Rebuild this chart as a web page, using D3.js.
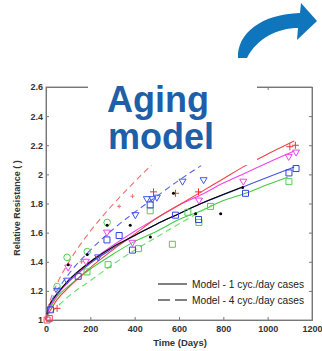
<!DOCTYPE html>
<meta charset="utf-8">
<style>
  body { margin: 0; background: #fff; }
  svg { display: block; font-family: Arial, "Liberation Sans", sans-serif; }
  .axis path, .axis line { stroke: #777; }
  .axis text { font-size: 9px; font-weight: bold; fill: #333; }
</style>
<body>
<div id="chart"></div>
<script src="https://d3js.org/d3.v7.min.js"></script>
<script>
// model curves, [day, relative resistance]
const modelBlack1 = [[0,1],[10,1.08],[25,1.13],[50,1.18],[100,1.27],[200,1.40],[300,1.50],[400,1.58],[500,1.66],[600,1.73],[700,1.80],[880,1.91]];
const modelRed1 = [[0,1],[10,1.04],[25,1.08],[50,1.14],[100,1.22],[200,1.36],[300,1.48],[400,1.59],[500,1.70],[600,1.79],[700,1.88],[800,1.97],[900,2.06],[1000,2.14],[1120,2.23]];
const modelMagenta1 = [[0,1],[10,1.06],[25,1.11],[50,1.17],[100,1.26],[200,1.40],[300,1.51],[400,1.61],[500,1.70],[600,1.79],[700,1.86],[800,1.94],[900,2.01],[1000,2.08],[1120,2.16]];
const modelBlue1 = [[0,1],[10,1.07],[25,1.12],[50,1.18],[100,1.26],[200,1.39],[300,1.49],[400,1.58],[500,1.66],[600,1.73],[700,1.80],[800,1.86],[900,1.92],[1000,1.98],[1120,2.05]];
const modelGreen1 = [[0,1],[10,1.06],[25,1.10],[50,1.16],[100,1.23],[200,1.35],[300,1.45],[400,1.54],[500,1.61],[600,1.69],[700,1.75],[800,1.82],[900,1.87],[1000,1.93],[1090,1.98]];
const modelRed4 = [[0,1],[10,1.09],[25,1.16],[50,1.25],[100,1.39],[200,1.61],[300,1.79],[400,1.95],[500,2.10],[600,2.24]];
const modelBlue4 = [[0,1],[10,1.07],[25,1.13],[50,1.20],[100,1.31],[200,1.48],[300,1.62],[400,1.74],[500,1.85],[600,1.96],[700,2.06]];
const modelGreen4 = [[0,1],[10,1.03],[25,1.05],[50,1.09],[100,1.16],[200,1.27],[300,1.38],[400,1.48],[500,1.57],[600,1.66],[750,1.79]];

// measured points
const redPlus = [[50,1.08],[485,1.88],[584,1.87],[688,1.88],[1100,2.19],[1125,2.20]];
const redSmall = [[160,1.40],[330,1.78],[390,1.85]];
const redSquare = [[5,1.00],[15,1.01]];
const magentaTri = [[100,1.36],[180,1.40],[275,1.60],[390,1.53],[690,1.82],[890,1.95],[1095,2.12],[1128,2.15]];
const blueTri = [[50,1.20],[95,1.27],[235,1.43],[403,1.72],[455,1.83],[480,1.83],[500,1.84],[616,1.95],[711,1.96]];
const blueSquare = [[20,1.07],[145,1.30],[275,1.55],[330,1.58],[390,1.48],[470,1.79],[584,1.72],[688,1.69],[900,1.87],[1096,2.01],[1128,2.04]];
const greenSquare = [[185,1.33],[280,1.38],[417,1.49],[470,1.75],[570,1.52],[640,1.74],[690,1.67],[742,1.78],[1096,1.95]];
const greenCircle = [[50,1.23],[95,1.43],[186,1.47],[276,1.67]];
const blackDot = [[100,1.38],[186,1.45],[276,1.65],[380,1.65],[471,1.57],[575,1.87],[675,1.73],[788,1.73],[887,1.91]];

const xTicks = [0, 200, 400, 600, 800, 1000, 1200];
const yTicks = [1, 1.2, 1.4, 1.6, 1.8, 2, 2.2, 2.4, 2.6];
const legendLabels = ["Model - 1 cyc./day cases", "Model - 4 cyc./day cases"];

const W = 322, H = 351;
const svg = d3.select("#chart").append("svg").attr("width", W).attr("height", H);

const x = d3.scaleLinear().domain([0, 1200]).range([46, 312]);
const y = d3.scaleLinear().domain([1, 2.6]).range([320, 87]);

// frame
svg.append("rect")
  .attr("x", 46).attr("y", 87)
  .attr("width", 266).attr("height", 233)
  .attr("fill", "none").attr("stroke", "#888");

svg.append("g").attr("class", "axis")
  .attr("transform", "translate(0,320)")
  .call(d3.axisBottom(x).tickValues(xTicks).tickSize(-3).tickPadding(6).tickFormat(d3.format("d")));
svg.append("g").attr("class", "axis")
  .attr("transform", "translate(46,0)")
  .call(d3.axisLeft(y).tickValues(yTicks).tickSize(-3).tickPadding(3).tickFormat(d => d));
svg.append("g").attr("class", "axis")
  .attr("transform", "translate(0,87)")
  .call(d3.axisTop(x).tickValues(xTicks).tickSize(-3).tickFormat(""));
svg.append("g").attr("class", "axis")
  .attr("transform", "translate(312,0)")
  .call(d3.axisRight(y).tickValues(yTicks).tickSize(-3).tickFormat(""));
svg.selectAll(".axis .domain").attr("stroke", "#666");

// axis titles
svg.append("text")
  .attr("x", 180).attr("y", 346)
  .attr("text-anchor", "middle")
  .attr("font-size", 9.5).attr("font-weight", "bold").attr("fill", "#333")
  .text("Time (Days)");
svg.append("text")
  .attr("transform", "translate(20,208) rotate(-90)")
  .attr("text-anchor", "middle")
  .attr("font-size", 9).attr("font-weight", "bold").attr("fill", "#333")
  .text("Relative Resistance ( )");

// model lines
const line = d3.line().x(d => x(d[0])).y(d => y(d[1])).curve(d3.curveMonotoneX);
const lines = [
  [modelGreen1, "#44cc44", null],
  [modelBlue1, "#4455dd", null],
  [modelMagenta1, "#ee44ee", null],
  [modelRed1, "#ee4444", null],
  [modelBlack1, "#000", null],
  [modelRed4, "#f07070", "6,4"],
  [modelBlue4, "#5566ee", "6,4"],
  [modelGreen4, "#66dd66", "6,4"]
];
lines.forEach(([data, color, dash]) => {
  svg.append("path")
    .datum(data)
    .attr("d", line)
    .attr("fill", "none")
    .attr("stroke", color)
    .attr("stroke-width", 1.1)
    .attr("stroke-dasharray", dash);
});

// markers
const shapes = {
  square: "M-3,-3h6v6h-6z",
  tri: "M-3.5,-2.5L3.5,-2.5L0,3.5Z",
  circle: d3.symbol(d3.symbolCircle, 34)(),
  plus: "M-3.5,0H3.5M0,-3.5V3.5",
  small: "M-2,0H2M0,-2V2"
};
function markers(pts, shape, color) {
  svg.append("g").selectAll("path")
    .data(pts)
    .join("path")
    .attr("transform", d => `translate(${x(d[0])},${y(d[1])})`)
    .attr("d", shapes[shape])
    .attr("fill", "none")
    .attr("stroke", color)
    .attr("stroke-width", 1);
}
markers(greenSquare, "square", "#55cc55");
markers(greenCircle, "circle", "#55cc55");
markers(blueSquare, "square", "#3344dd");
markers(blueTri, "tri", "#4455ee");
markers(magentaTri, "tri", "#ee44ee");
markers(redSquare, "square", "#ee4466");
markers(redPlus, "plus", "#ee3333");
markers(redSmall, "small", "#f07070");

svg.append("g").selectAll("circle")
  .data(blackDot)
  .join("circle")
  .attr("cx", d => x(d[0]))
  .attr("cy", d => y(d[1]))
  .attr("r", 1.5)
  .attr("fill", "#000");

// legend
const legend = svg.append("g");
legendLabels.forEach((t, i) => {
  const ly = 284 + i * 16;
  legend.append("line")
    .attr("x1", 158).attr("x2", 187)
    .attr("y1", ly).attr("y2", ly)
    .attr("stroke", "#000").attr("stroke-width", 1)
    .attr("stroke-dasharray", i ? "12,5" : null);
  legend.append("text")
    .attr("x", 192).attr("y", ly + 3.5)
    .attr("font-size", 10.2).attr("fill", "#222")
    .text(t);
});

// white text box over the plot
svg.append("rect")
  .attr("x", 88).attr("y", 60)
  .attr("width", 169).attr("height", 105)
  .attr("fill", "#fff");
svg.append("text")
  .attr("x", 158).attr("y", 112)
  .attr("text-anchor", "middle")
  .attr("font-size", 36).attr("font-weight", "bold").attr("fill", "#1f5fa9")
  .text("Aging");
svg.append("text")
  .attr("x", 161).attr("y", 149)
  .attr("text-anchor", "middle")
  .attr("font-size", 36).attr("font-weight", "bold").attr("fill", "#1f5fa9")
  .text("model");

// curved arrow
svg.append("path")
  .attr("d", "M238,58 C237,33 262,14 300,13 L301,3 L317,21 L297,40 L298,28 C278,28 257,38 247,58 Z")
  .attr("fill", "#0f75bc");
</script>
</body>
</html>
